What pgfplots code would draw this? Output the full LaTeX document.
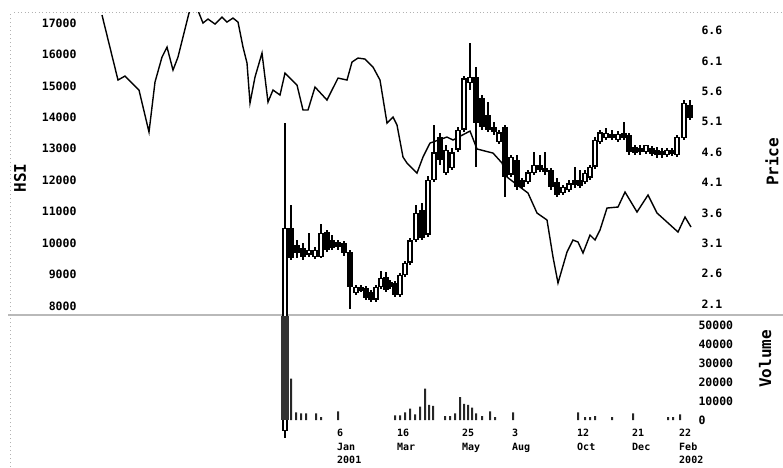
\documentclass[border=0pt]{standalone}
\usepackage{pgfplots}
\pgfplotsset{compat=1.18}
\usepackage{pgfplotstable}
\usepackage{fontspec}
\newfontfamily\monofont{DejaVu Sans Mono}

% HSI index, x = position along the time axis
\pgfplotstableread{
x hsi
102 17254
118 15187
125 15314
135 14996
139 14869
149 13533
155 15123
162 15918
167 16236
173 15505
178 15918
189 17317
194 17700
199 17317
203 17000
208 17127
215 16968
222 17190
227 17031
233 17158
238 17031
243 16236
247 15727
250 14455
255 15282
262 16045
268 14487
273 14869
280 14710
285 15409
297 15028
303 14233
308 14233
315 14964
327 14551
338 15250
347 15187
352 15759
358 15886
365 15855
373 15600
380 15187
387 13819
393 14010
397 13756
403 12738
407 12547
417 12229
423 12738
430 13183
447 13374
453 13279
470 13565
477 12993
493 12865
502 12547
507 12102
520 11784
528 11593
537 10957
547 10735
553 9558
558 8731
567 9717
573 10099
578 10035
583 9685
590 10258
595 10099
600 10417
607 11116
618 11148
625 11625
637 10989
648 11530
657 10957
667 10671
678 10353
685 10830
691 10512
}\hsidata

% weekly price: open high low close
\pgfplotstableread{
x o h l c
285 0.00 5.08 -0.10 3.35
291 3.35 3.73 2.82 2.86
297 3.07 3.15 2.86 2.94
303 3.02 3.10 2.82 2.87
309 2.91 3.27 2.87 2.99
315 2.87 3.04 2.84 2.99
321 2.87 3.42 2.86 3.27
327 3.29 3.32 2.96 2.99
332 3.15 3.24 2.99 3.02
338 3.12 3.15 2.99 3.04
344 3.10 3.14 2.89 2.94
350 2.96 2.99 2.02 2.38
356 2.28 2.41 2.25 2.38
361 2.33 2.41 2.30 2.36
366 2.36 2.40 2.17 2.20
371 2.30 2.33 2.13 2.17
376 2.17 2.41 2.13 2.38
381 2.38 2.64 2.35 2.53
386 2.54 2.63 2.30 2.33
390 2.46 2.50 2.35 2.38
395 2.45 2.48 2.22 2.25
400 2.25 2.61 2.22 2.58
405 2.58 2.81 2.54 2.78
410 2.78 3.19 2.74 3.15
416 3.15 3.73 3.12 3.60
422 3.65 3.76 3.15 3.19
428 3.24 4.21 3.20 4.14
434 4.14 5.05 4.11 4.60
440 4.85 4.92 4.39 4.47
446 4.26 4.72 4.23 4.64
452 4.34 4.67 4.31 4.60
458 4.64 5.02 4.60 4.97
464 4.97 5.86 4.93 5.82
470 5.74 6.40 5.63 5.84
476 5.84 6.00 4.36 5.08
482 5.49 5.54 4.97 5.02
488 5.21 5.43 4.93 4.97
494 5.02 5.10 4.88 4.93
499 4.77 4.97 4.74 4.93
505 5.02 5.05 3.86 4.19
511 4.23 4.55 4.19 4.52
517 4.47 4.55 3.98 4.03
522 4.14 4.18 4.00 4.03
528 4.11 4.31 4.08 4.27
534 4.26 4.60 4.23 4.39
540 4.39 4.55 4.27 4.31
545 4.34 4.60 4.23 4.27
551 4.31 4.34 3.98 4.03
557 4.11 4.18 3.86 3.90
563 3.93 4.06 3.90 4.03
569 3.98 4.14 3.95 4.09
575 4.14 4.36 4.01 4.06
580 4.14 4.31 4.01 4.04
585 4.11 4.31 4.08 4.26
590 4.18 4.39 4.14 4.36
595 4.36 4.85 4.32 4.80
600 4.77 4.97 4.74 4.93
606 4.83 5.00 4.80 4.92
612 4.90 4.97 4.80 4.83
618 4.80 4.95 4.77 4.90
624 4.92 5.10 4.80 4.83
629 4.88 4.92 4.55 4.60
635 4.69 4.72 4.55 4.59
640 4.67 4.72 4.55 4.60
646 4.60 4.72 4.57 4.72
652 4.67 4.70 4.54 4.57
657 4.64 4.69 4.51 4.55
662 4.62 4.67 4.51 4.55
667 4.55 4.67 4.52 4.64
672 4.64 4.67 4.54 4.57
677 4.55 4.88 4.52 4.85
684 4.83 5.46 4.80 5.41
690 5.38 5.46 5.13 5.16
}\candles

\pgfplotstableread{
x v
291 21800
296 4000
301 3500
306 3500
316 3500
321 1500
338 4500
395 2500
400 2500
405 4000
410 6000
415 3000
420 7000
425 16500
429 8000
433 7500
445 2000
450 2000
455 3500
460 12000
464 8500
468 8000
472 6500
476 3500
482 2000
490 4500
495 1500
513 4000
578 4000
585 1500
590 1500
595 2000
612 1500
633 3500
668 1500
673 1500
680 3000
}\voldata

\begin{document}
\begin{tikzpicture}[x=1pt,y=1pt]
\useasboundingbox (0,0) rectangle (783,467);
\pgfplotsset{
  panel/.style={scale only axis, width=615pt, xmin=80, xmax=695, anchor=south west,
    scaled x ticks=false, scaled y ticks=false,
    axis line style={draw=none}, tick style={draw=none},
    tick label style={font=\monofont\bfseries\fontsize{11.5}{12}\selectfont},
    every axis y label/.style={rotate=90, anchor=center,
      font=\monofont\bfseries\fontsize{16}{18}\selectfont}},
}
% frame remnants
\draw[gray!55, line width=2.5pt] (8,152) -- (783,152);
\draw[gray!60, line width=0.8pt, dash pattern=on 1pt off 2.5pt] (14,455) -- (783,455);
\draw[gray!60, line width=0.8pt, dash pattern=on 1pt off 3pt] (10,0) -- (10,455);

% HSI line
\begin{axis}[panel, at={(80pt,151pt)}, height=304pt,
  ymin=7682, ymax=17351, axis x line=none, axis y line*=left,
  ytick={8000,9000,...,17000},
  yticklabels={8000,9000,10000,11000,12000,13000,14000,15000,16000,17000},
  ylabel=HSI, every axis y label/.append style={at={(rel axis cs:-0.0976,0.454)}}]
\addplot[black, line width=1.4pt] table[x=x,y=hsi] {\hsidata};
\end{axis}

% price candles
\begin{axis}[panel, at={(80pt,151pt)}, height=304pt, clip=false,
  ymin=1.902, ymax=6.910, axis x line=none, axis y line*=right,
  ytick={2.1,2.6,3.1,3.6,4.1,4.6,5.1,5.6,6.1,6.6},
  yticklabels={2.1,2.6,3.1,3.6,4.1,4.6,5.1,5.6,6.1,6.6},
  yticklabel style={xshift=3pt},
  ylabel=Price, every axis y label/.append style={at={(rel axis cs:1.125,0.507)}}]
% wicks
\addplot[draw=none, mark=none, error bars/.cd, y dir=both, y explicit, error mark=none,
  error bar style={draw=black, line width=1.2pt}]
  table[x=x, y expr={(\thisrow{h}+\thisrow{l})/2},
    y error expr={(\thisrow{h}-\thisrow{l})/2}] {\candles};
% bodies
\addplot[draw=none, mark=none, error bars/.cd, y dir=both, y explicit, error mark=none,
  error bar style={draw=black, line width=5.5pt}]
  table[x=x, y expr={(\thisrow{o}+\thisrow{c})/2},
    y error expr={max(abs(\thisrow{c}-\thisrow{o})/2,0.03)}] {\candles};
% hollow inside of rising weeks
\addplot[draw=none, mark=none, error bars/.cd, y dir=both, y explicit, error mark=none,
  error bar style={draw=white, line width=2.8pt}]
  table[x=x, y expr={(\thisrow{o}+\thisrow{c})/2},
    y error expr={(\thisrow{c}>\thisrow{o}) ? max(abs(\thisrow{c}-\thisrow{o})/2-0.022,0) : 0}] {\candles};
\end{axis}

% volume
\begin{axis}[panel, at={(80pt,41pt)}, height=110pt,
  ymin=-3158, ymax=54737, axis x line*=bottom, axis y line*=right,
  ytick={0,10000,...,50000},
  yticklabels={0,10000,20000,30000,40000,50000},
  xtick={337,397,462,512,577,632,679},
  xticklabels={{6\\Jan\\2001},{16\\Mar},{25\\May},{3\\Aug},{12\\Oct},{21\\Dec},{22\\Feb\\2002}},
  xticklabel style={align=left, anchor=north west, inner sep=0pt, yshift=-3pt,
    font=\monofont\bfseries\fontsize{10}{13.5}\selectfont},
  ylabel=Volume, every axis y label/.append style={at={(rel axis cs:1.114,0.61)}}]
\addplot[ybar, bar width=8pt, bar shift=0pt, fill=black!80, draw=none] coordinates {(285,60000)};
\addplot[ybar, bar width=2pt, bar shift=0pt, fill=black!85, draw=none] table[x=x,y=v] {\voldata};
\end{axis}
\end{tikzpicture}
\end{document}
